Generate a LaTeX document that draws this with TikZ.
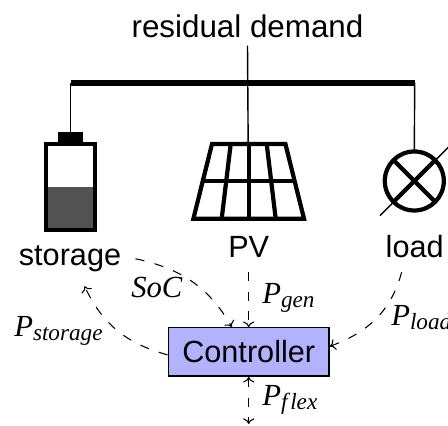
\documentclass[tikz,border=0pt]{standalone}
\usepackage{fontspec}
\usetikzlibrary{arrows.meta}
\setmainfont{Liberation Sans}
\newfontfamily\varfont{Liberation Serif}
\newcommand{\symvar}[2]{{\varfont\itshape #1\raisebox{-2.6pt}{\fontsize{16.5}{18}\selectfont #2}}}
\tikzset{
  thick icon/.style={draw,line width=3pt},
  thin wire/.style={draw,line width=1pt},
  flow/.style={draw,line width=0.75pt,dash pattern=on 6.5pt off 7.5pt},
  >={Computer Modern Rightarrow[length=4pt,width=8pt]},
}
\begin{document}
\begin{tikzpicture}[x=0.025cm,y=0.025cm,font=\fontsize{21.8}{26}\selectfont]

        \useasboundingbox (0,0) rectangle (448,426);

        \coordinate (busleft)  at (70.5,343);
        \coordinate (busright) at (414.7,343);
        \coordinate (panelfoot) at (248.7,207.3);
        \coordinate (lamplow)  at (380,210.3);
        \coordinate (lamphigh) at (452,282.3);
        \coordinate (flexend)  at (248.7,2);

        % battery
        \fill[black!68] (48,198) rectangle (93,239);
        \node (batt) [rectangle,thick icon,minimum width=1.225cm,minimum height=2.15cm,inner sep=0pt,outer sep=0pt] at (70.5,238.7) {};
        \node (cap)  [rectangle,fill=black,minimum width=0.64cm,minimum height=0.3cm,inner sep=0pt,outer sep=0pt,anchor=south] at (70.5,282) {};

        % pv panel
        \draw[thick icon,line join=miter] (212,282) -- (285.4,282) -- (304,207.3) -- (193.4,207.3) -- cycle;
        \draw[thick icon] (202.7,245) -- (294.7,245);
        \draw[thick icon] (230.7,282) -- (221.7,207.3);
        \draw[thick icon] (248.7,282) -- (panelfoot);
        \draw[thick icon] (266.7,282) -- (275.7,207.3);

        % lamp
        \node (lamp) [circle,thick icon,minimum size=1.475cm,inner sep=0pt,outer sep=0pt] at (414.3,245) {};
        \draw[thick icon] (lamp.45) -- (lamp.225);
        \draw[thick icon] (lamp.135) -- (lamp.-45);
        \draw[thin wire] (lamplow) -- (lamphigh);

        \begin{scope}[every node/.style={inner xsep=10pt,inner ysep=10pt,anchor=base}]
          \node (storage) at (70,160.5)    {storage};
          \node (pv)      at (248.7,168.5) {PV};
          \node (load)    at (414.7,168.5) {load};
        \end{scope}
        \node (residual) [inner ysep=5pt,anchor=base,font=\fontsize{22.3}{26}\selectfont] at (247.5,388) {residual demand};
        \node (controller) [rectangle,draw,line width=1pt,fill=blue!30,minimum width=4.02cm,minimum height=1.21cm,inner sep=0pt] at (248.7,74) {Controller};

        % wires
        \draw[line width=3.8pt] (busleft) -- (busright);
        \draw[thin wire] (busleft) -- (cap.north);
        \draw[thin wire] (residual.south) -- (panelfoot);
        \draw[thin wire] (busright) -- (lamp.north);

        % signals
        \path[flow,->] (storage.east) to[out=-12,in=120] (controller.124);
        \path[flow,->] (controller.182) to[out=165,in=-65] (storage.-62);
        \path[flow,->] (pv.south) -- (controller.north);
        \path[flow,->] (load.-117) to[out=-105,in=20] (controller.4);
        \path[flow,<->] (controller.south) -- (flexend);

        \begin{scope}[every node/.style={inner sep=0pt,anchor=base west}]
          \node (soc)    at (131,128) {{\varfont\itshape SoC}};
          \node (pstor)  at (14,89)   {\symvar{P}{storage}};
          \node (pgen)   at (262,122) {\symvar{P}{gen}};
          \node (pload)  at (391,100) {\symvar{P}{load}};
          \node (pflex)  at (262,20)  {\symvar{P}{f\kern2pt lex}};
        \end{scope}

      \end{tikzpicture}
\end{document}
